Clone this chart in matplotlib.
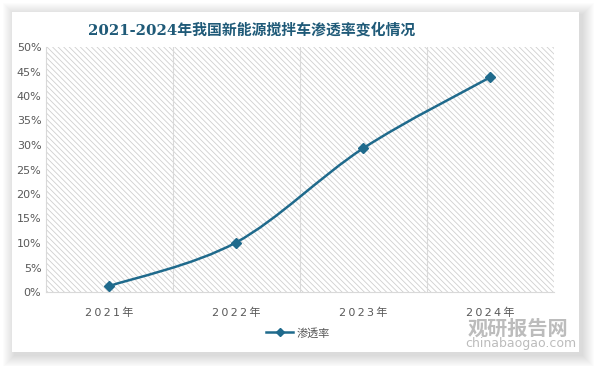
import matplotlib
matplotlib.use("Agg")
import matplotlib.pyplot as plt
from matplotlib.path import Path
from matplotlib.patches import PathPatch, Rectangle
from matplotlib.lines import Line2D
import numpy as np

plt.rcParams['font.family'] = ['DejaVu Sans', 'Noto Sans CJK SC']
plt.rcParams['hatch.linewidth'] = 0.6

years = ['2021年', '2022年', '2023年', '2024年']
rate = [1.2, 10.1, 29.3, 43.8]
series_name = '渗透率'
title = '2021-2024年我国新能源搅拌车渗透率变化情况'
yticks = list(range(0, 51, 5))

line_color = '#1f6a8c'
text_color = '#595959'
grid_color = '#d9d9d9'

fig = plt.figure(figsize=(5.94, 3.66), dpi=100)
fig.patch.set_facecolor('white')

W, H = 594, 366
# soft shadow behind the card
cx0, cy_top, cx1, cy_bot = 12, 12, 579, 352
for d in range(1, 13):
    fig.patches.append(Rectangle(((cx0 - d + 3) / W, (H - cy_bot - d - 3) / H),
                                 (cx1 - cx0 + 2 * d) / W, (cy_bot - cy_top + 2 * d) / H,
                                 transform=fig.transFigure, facecolor='black',
                                 edgecolor='none', alpha=0.012, zorder=0))
fig.patches.append(Rectangle((cx0 / W, (H - cy_bot) / H), (cx1 - cx0) / W,
                             (cy_bot - cy_top) / H, transform=fig.transFigure,
                             facecolor='white', edgecolor='none', zorder=1))

ax = fig.add_axes([45.5 / W, 74 / H, 508 / W, 245 / H])
ax.set_zorder(2)
ax.patch.set_facecolor('white')
ax.patch.set_hatch('\\\\\\\\\\\\')
ax.patch.set_edgecolor('#cfcfcf')
ax.patch.set_linewidth(0)

x = np.arange(len(years))
ax.set_xlim(-0.5, len(years) - 0.5)
ax.set_ylim(0, 50)

for g in x[:-1] + 0.5:
    ax.axvline(g, color=grid_color, lw=0.8, zorder=1)

# smoothed line (Catmull-Rom style bezier through the data points)
pts = np.column_stack([x, rate]).astype(float)
ext = np.vstack([pts[0], pts, pts[-1]])
verts = [tuple(pts[0])]
codes = [Path.MOVETO]
for i in range(len(pts) - 1):
    p0, p1, p2, p3 = ext[i], ext[i + 1], ext[i + 2], ext[i + 3]
    c1 = p1 + (p2 - p0) / 6.0
    c2 = p2 - (p3 - p1) / 6.0
    verts += [tuple(c1), tuple(c2), tuple(p2)]
    codes += [Path.CURVE4] * 3
ax.add_patch(PathPatch(Path(verts, codes), facecolor='none',
                       edgecolor=line_color, lw=1.8, zorder=3))
ax.plot(x, rate, linestyle='none', marker='D', markersize=5,
        color=line_color, zorder=4)

for s in ['top', 'right']:
    ax.spines[s].set_visible(False)
for s in ['left', 'bottom']:
    ax.spines[s].set_color(grid_color)
    ax.spines[s].set_linewidth(0.8)

ax.set_yticks(yticks)
ax.set_yticklabels([f'{v}%' for v in yticks], fontsize=8, color=text_color)
ax.set_xticks(x)
ax.set_xticklabels(['\u2009'.join(list(y)) for y in years],
                   fontsize=8, color=text_color)
ax.tick_params(axis='both', length=0)
ax.tick_params(axis='y', pad=3)
ax.tick_params(axis='x', pad=11)

fig.text(252 / W, 1 - 30 / H, title, ha='center', va='center',
         fontsize=10.7, fontweight='bold', color='#1f5a78',
         family=['DejaVu Serif', 'Noto Sans CJK SC'], zorder=5)

# legend
handle = Line2D([], [], color=line_color, lw=1.8, marker='D', markersize=4)
fig.legend([handle], [series_name], loc='center', bbox_to_anchor=(298 / W, 1 - 333 / H),
           frameon=False, handlelength=2.4, handletextpad=0.3, labelcolor=text_color,
           prop={'family': ['Noto Sans CJK SC'], 'size': 8})

# watermark
fig.text(468 / W, 1 - 328 / H, '观研报告网', fontsize=14.5, fontweight='bold',
         color='#a0a0a0', alpha=0.7, family=['Noto Sans CJK SC'],
         ha='left', va='center', zorder=6)
fig.text(465 / W, 1 - 344 / H, 'chinabaogao.com', fontsize=9,
         color='#a0a0a0', alpha=0.7, ha='left', va='center', zorder=6)

fig.savefig('out.png', dpi=100)
